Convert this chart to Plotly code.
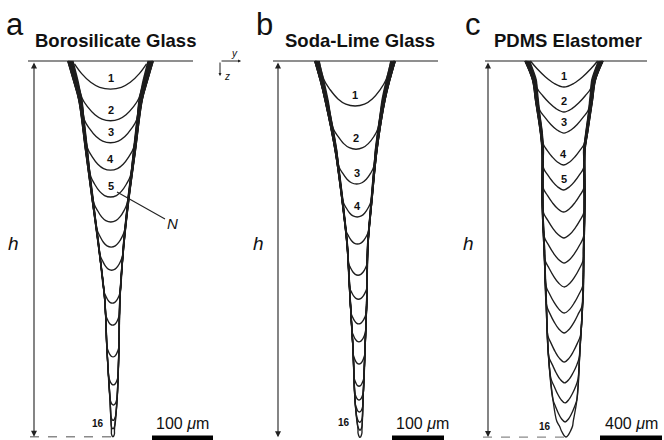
import numpy as np
import plotly.graph_objects as go

W, H = 664, 440
SURF_PX = 61          # pixel row of the sample surface
FONT = "Liberation Sans, Arial, sans-serif"
INK = "#1e1e1e"

# ---------------- data (µm) ----------------
panel_titles = ["Borosilicate Glass", "Soda-Lime Glass", "PDMS Elastomer"]
panel_letters = ["a", "b", "c"]
scale_lengths = [100, 100, 400]          # µm
scale_labels = ["100 <i>μ</i>m", "100 <i>μ</i>m", "400 <i>μ</i>m"]
profile_numbers = list(range(1, 17))
labelled_profiles = [[1, 2, 3, 4, 5], [1, 2, 3, 4], [1, 2, 3, 4, 5]]

# panel a : borosilicate glass
a_depths = [46, 98, 134, 179, 223, 264, 305, 343, 397, 433, 485, 531, 564, 589, 603, 616]
a_wall_z = [0, 31, 64, 146, 228, 302, 392, 474, 556, 605]
a_wall_hw = [70, 61, 52, 41, 30, 21, 12.5, 9.8, 5.7, 2.5]
a_wall_cx = [0, 0, 0, 0, 0, 1, 3, 4, 5, 4]
a_grow = [0.86, 0.88, 0.90, 0.91, 0.92, 0.93, 0.94, 0.95, 0.96, 0.97, 0.97, 0.98, 0.99, 0.99, 1.0, 1.0]

# panel b : soda-lime glass
b_depths = [75, 147, 205, 260, 305, 357, 397, 438, 468, 505, 542, 565, 585, 602, 615, 627]
b_wall_z = [0, 32, 65, 148, 232, 307, 398, 482, 565, 615]
b_wall_hw = [67, 58, 50, 35, 25, 17.5, 14, 10, 6.7, 3.3]
b_wall_cx = [0, 0, 0, 1.7, 3.3, 4.2, 5.8, 6.7, 6.7, 8.3]
b_grow = [0.89, 0.90, 0.92, 0.93, 0.94, 0.95, 0.96, 0.97, 0.97, 0.98, 0.98, 0.99, 0.99, 1.0, 1.0, 1.0]

# panel c : PDMS elastomer
c_depths = [168, 329, 465, 671, 832, 974, 1142, 1303, 1458, 1626, 1755, 1942, 2077, 2206, 2329, 2426]
c_wall_z = [0, 123, 252, 465, 574, 897, 1219, 1542, 1865, 2187, 2316, 2426]
c_wall_hw = [252, 203, 184, 152, 139, 139, 129, 119, 103, 77, 55, 30]
c_wall_cx = [0, 0, 0, 0, -3, -3, 0, 3, 0, 6, 6, 13]
c_grow = [0.86, 0.88, 0.90, 0.92, 0.93, 0.94, 0.95, 0.96, 0.97, 0.97, 0.98, 0.98, 0.99, 0.99, 1.0, 1.0]

# ---------------- layout geometry (pixels) ----------------
panels = [
    dict(depths=a_depths, wz=a_wall_z, whw=a_wall_hw, wcx=a_wall_cx, grow=a_grow,
         s=0.61, cx=110.5, dom=(0, 222), k=(0.70, 2.0), p=2.2,
         surf=(28, 193), arrow=34, dash0=30, bar0=152, title_x=115.5, letter_x=15,
         h_x=14, n16=(-7, 6)),
    dict(depths=b_depths, wz=b_wall_z, whw=b_wall_hw, wcx=b_wall_cx, grow=b_grow,
         s=0.60, cx=355, dom=(222, 444), k=(0.85, 2.0), p=2.2,
         surf=(273, 438), arrow=278, dash0=None, bar0=392, title_x=360, letter_x=264,
         h_x=258, n16=(-8, 7)),
    dict(depths=c_depths, wz=c_wall_z, whw=c_wall_hw, wcx=c_wall_cx, grow=c_grow,
         s=0.155, cx=564, dom=(444, 664), k=(0.80, 1.9), p=1.6,
         surf=(485, 647), arrow=488, dash0=483, bar0=600, title_x=567.5, letter_x=473,
         h_x=468, n16=(-13, 3)),
]


def profile_xy(depth, P, grow, k):
    wz = np.array(P["wz"], float)
    whw = np.array(P["whw"], float) * grow
    wcx = np.array(P["wcx"], float)
    hw = lambda z: np.interp(z, wz, whw)
    cxf = lambda z: np.interp(z, wz, wcx)
    zg = np.linspace(0, depth, 600)
    f = depth - zg - k * hw(zg)
    ok = np.where(f >= 0)[0]
    zs = zg[ok[-1]] if len(ok) else 0.0
    b = depth - zs
    ws = hw(zs)
    left, right = [], []
    for z, h_, c_ in zip(wz, whw, wcx):
        if z < zs - 0.2 * b:
            left.append((c_ - h_, z))
            right.append((c_ + h_, z))
    cs, cb = cxf(zs), cxf(depth)
    bowl = [(cs - ws, zs)]
    for u in [-0.8, -0.55, -0.3, 0.0, 0.3, 0.55, 0.8]:
        bowl.append((cb + u * ws, depth - b * abs(u) ** P["p"]))
    bowl.append((cs + ws, zs))
    pts = left + bowl + right[::-1]
    return [q[0] for q in pts], [q[1] for q in pts]


def paper_text(xpx, ypx, text, size, xanchor="center", yanchor="middle"):
    return dict(x=xpx / W, y=1 - ypx / H, xref="paper", yref="paper", text=text,
                showarrow=False, xanchor=xanchor, yanchor=yanchor,
                font=dict(family=FONT, size=size, color="#111"))


fig = go.Figure()
annotations = []
layout_axes = {}

for i, P in enumerate(panels):
    n = "" if i == 0 else str(i + 1)
    xa, ya = "x" + n, "y" + n
    s, cx = P["s"], P["cx"]
    X = lambda px: (px - cx) / s
    Z = lambda py: (py - SURF_PX) / s
    layout_axes["xaxis" + n] = dict(domain=[P["dom"][0] / W, P["dom"][1] / W],
                                   range=[X(P["dom"][0]), X(P["dom"][1])],
                                   visible=False, anchor=ya)
    layout_axes["yaxis" + n] = dict(domain=[0, 1], range=[Z(H), Z(0)],
                                   visible=False, anchor=xa)
    ks = np.linspace(P["k"][0], P["k"][1], len(P["depths"]))
    depth_max = P["depths"][-1]
    tip_x = float(np.interp(depth_max, P["wz"], P["wcx"]))

    # surface line
    fig.add_trace(go.Scatter(x=[X(P["surf"][0]), X(P["surf"][1])], y=[0, 0], mode="lines",
                             line=dict(color="#6a6a6a", width=1.6), xaxis=xa, yaxis=ya,
                             hoverinfo="skip", showlegend=False))
    # profiles
    for j, d in enumerate(P["depths"]):
        xs, zs = profile_xy(d, P, P["grow"][j], ks[j])
        fig.add_trace(go.Scatter(x=xs, y=zs, mode="lines",
                                 line=dict(color=INK, width=1.35, shape="spline", smoothing=1.0),
                                 xaxis=xa, yaxis=ya, hoverinfo="skip", showlegend=False))
    # dashed depth marker
    if P["dash0"] is not None:
        fig.add_trace(go.Scatter(x=[X(P["dash0"]), tip_x], y=[depth_max, depth_max], mode="lines",
                                 line=dict(color="#8a8a8a", width=1.3, dash="dash"),
                                 xaxis=xa, yaxis=ya, hoverinfo="skip", showlegend=False))
    # scale bar
    x0 = X(P["bar0"])
    fig.add_trace(go.Scatter(x=[x0, x0 + scale_lengths[i]], y=[Z(438), Z(438)], mode="lines",
                             line=dict(color="#000000", width=5), xaxis=xa, yaxis=ya,
                             hoverinfo="skip", showlegend=False))
    annotations.append(dict(x=x0 + scale_lengths[i] / 2, y=Z(434), xref=xa, yref=ya,
                            text=scale_labels[i], showarrow=False, xanchor="center",
                            yanchor="bottom",
                            font=dict(family=FONT, size=16, color="#111")))
    # h arrow
    annotations.append(dict(x=X(P["arrow"]), y=depth_max, ax=X(P["arrow"]), ay=0,
                            xref=xa, yref=ya, axref=xa, ayref=ya, text="", showarrow=True,
                            arrowside="end+start", arrowhead=2, arrowsize=1.1, arrowwidth=1.1,
                            arrowcolor="#222"))
    annotations.append(paper_text(P["h_x"], 243, "<i>h</i>", 19))
    # titles & letters
    annotations.append(paper_text(P["title_x"], 41, "<b>%s</b>" % panel_titles[i], 18.5))
    annotations.append(paper_text(P["letter_x"], 25, panel_letters[i], 31))
    # profile numbers
    for num in labelled_profiles[i]:
        d = P["depths"][num - 1]
        annotations.append(dict(x=float(np.interp(d, P["wz"], P["wcx"])), y=d, xref=xa, yref=ya,
                                text="<b>%d</b>" % num, showarrow=False, xanchor="center",
                                yanchor="bottom", yshift=3,
                                font=dict(family=FONT, size=11, color="#111")))
    annotations.append(dict(x=tip_x, y=depth_max, xref=xa, yref=ya,
                            text="<b>%d</b>" % profile_numbers[-1], showarrow=False,
                            xanchor="right", yanchor="bottom",
                            xshift=P["n16"][0], yshift=P["n16"][1],
                            font=dict(family=FONT, size=10, color="#111")))

# N leader (panel a)
Pa = panels[0]
annotations.append(dict(x=(117 - Pa["cx"]) / Pa["s"], y=(192 - SURF_PX) / Pa["s"], xref="x", yref="y",
                        text="<i>N</i>", showarrow=True, arrowhead=0, arrowwidth=1.1,
                        arrowcolor="#222", ax=55, ay=31, standoff=0,
                        font=dict(family=FONT, size=15, color="#111")))
# y/z axis glyph
annotations.append(dict(x=241 / W, y=1 - 61 / H, xref="paper", yref="paper",
                        ax=-21, ay=0, axref="pixel", ayref="pixel",
                        text="", showarrow=True, arrowhead=2, arrowsize=0.6, arrowwidth=1,
                        arrowcolor="#222"))
annotations.append(dict(x=220 / W, y=1 - 76 / H, xref="paper", yref="paper",
                        ax=0, ay=-15, axref="pixel", ayref="pixel",
                        text="", showarrow=True, arrowhead=2, arrowsize=0.6, arrowwidth=1,
                        arrowcolor="#222"))
annotations.append(paper_text(234, 53, "<i>y</i>", 10))
annotations.append(paper_text(227, 76, "<i>z</i>", 10))

fig.update_layout(width=W, height=H, margin=dict(l=0, r=0, t=0, b=0),
                  paper_bgcolor="white", plot_bgcolor="white",
                  annotations=annotations, showlegend=False, **layout_axes)
fig.write_html("out.html")
